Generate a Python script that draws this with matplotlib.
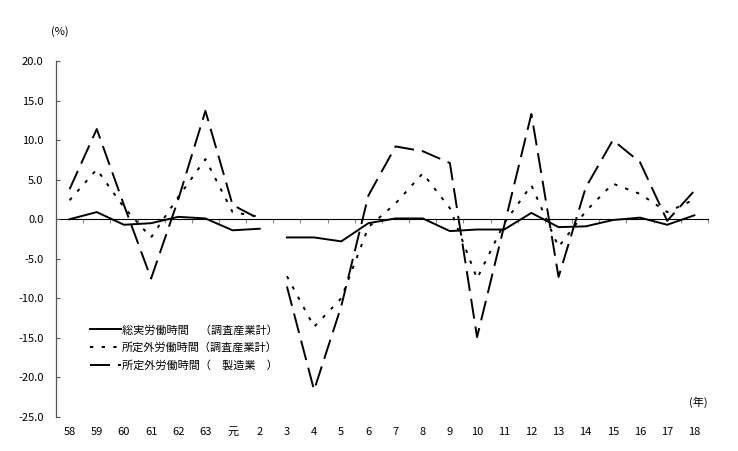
import matplotlib.pyplot as plt
import numpy as np

plt.rcParams['font.family'] = ['Noto Sans CJK JP', 'DejaVu Sans']
plt.rcParams['axes.unicode_minus'] = False

years = ['58', '59', '60', '61', '62', '63', '元', '2',
         '3', '4', '5', '6', '7', '8', '9', '10', '11', '12',
         '13', '14', '15', '16', '17', '18']

# 総実労働時間（調査産業計）
total_hours = [0.0, 0.9, -0.7, -0.5, 0.3, 0.1, -1.4, -1.2,
               -2.3, -2.3, -2.8, -0.5, 0.1, 0.1, -1.5, -1.3, -1.3, 0.8,
               -1.0, -0.9, -0.1, 0.2, -0.7, 0.5]
# 所定外労働時間（調査産業計）
overtime_all = [2.4, 6.3, 1.5, -2.3, 2.8, 7.6, 0.9, 0.3,
                -7.2, -13.6, -10.0, -1.0, 2.0, 5.8, 1.4, -7.5, -0.5, 4.3,
                -3.5, 1.0, 4.5, 3.2, 0.9, 2.5]
# 所定外労働時間（製造業）
overtime_mfg = [3.8, 11.4, 1.8, -7.5, 2.5, 13.7, 1.8, 0.0,
                -8.5, -21.6, -11.0, 3.0, 9.2, 8.6, 7.1, -14.9, -0.8, 13.3,
                -7.3, 4.0, 10.0, 7.2, -0.2, 3.6]

labels = ['総実労働時間　（調査産業計）',
          '所定外労働時間（調査産業計）',
          '所定外労働時間（　製造業　）']

x = np.arange(len(years))
brk = 8  # 2年と3年の間で線を切る

fig = plt.figure(figsize=(7.38, 4.51), dpi=100)
ax = fig.add_axes([0.0759, 0.0754, 0.8834, 0.7893])

styles = [dict(linestyle='-'),
          dict(linestyle=(0, (1.7, 4.3))),
          dict(linestyle=(0, (10.3, 4.1)))]
series = [total_hours, overtime_all, overtime_mfg]

for vals, st, lab in zip(series, styles, labels):
    v = np.array(vals)
    ax.plot(x[:brk], v[:brk], color='black', lw=1.4, label=lab, **st)
    ax.plot(x[brk:], v[brk:], color='black', lw=1.4, **st)

ax.set_xlim(-0.5, len(years) - 0.5)
ax.set_ylim(-25, 20)
ax.set_yticks(np.arange(-25, 20.1, 5))
ax.set_yticklabels(['%.1f' % v for v in np.arange(-25, 20.1, 5)])
ax.tick_params(axis='y', direction='in', length=3, pad=9, labelsize=8,
               color='#555555')

ax.set_xticks(x)
ax.set_xticklabels(years)
ax.tick_params(axis='x', length=0, pad=7, labelsize=8)

for s in ['top', 'right', 'bottom']:
    ax.spines[s].set_visible(False)
ax.spines['left'].set_color('#555555')
ax.spines['left'].set_linewidth(0.9)

# zero line with tick marks between categories
zero_ax = ax.secondary_xaxis(25 / 45)
zero_ax.set_xticks(np.arange(-0.5, len(years), 1.0))
zero_ax.set_xticklabels([])
zero_ax.tick_params(direction='in', length=3, color='#888888')
zero_ax.spines['bottom'].set_color('#888888')
zero_ax.spines['bottom'].set_linewidth(1.0)

fig.text(60 / 738, 1 - 32 / 451, '(%)', ha='center', va='center', fontsize=8)
fig.text(698 / 738, 1 - 402 / 451, '(年)', ha='center', va='center', fontsize=8)

ax.legend(loc='upper left', bbox_to_anchor=(0.045, 0.272), frameon=False,
          fontsize=8, handlelength=2.8, handletextpad=0.1, labelspacing=0.62,
          borderaxespad=0)

fig.savefig('out.png', dpi=100)
